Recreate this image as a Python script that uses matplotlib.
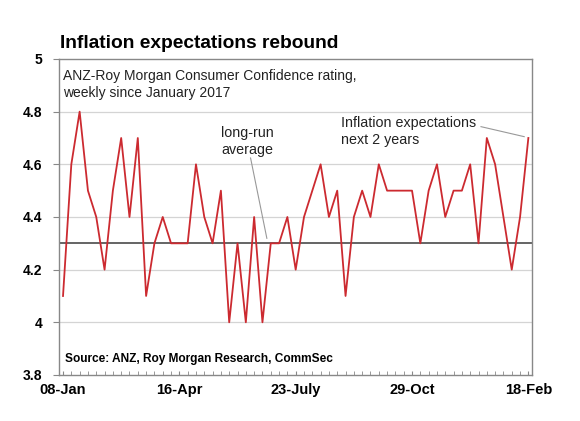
import matplotlib
matplotlib.use("Agg")
import matplotlib.pyplot as plt
import numpy as np

plt.rcParams['font.family'] = ['Liberation Sans', 'DejaVu Sans']

# weekly readings, 08-Jan-2017 .. 18-Feb-2018
inflation_exp = [4.1, 4.6, 4.8, 4.5, 4.4, 4.2, 4.5, 4.7, 4.4, 4.7,
                 4.1, 4.3, 4.4, 4.3, 4.3, 4.3, 4.6, 4.4, 4.3, 4.5,
                 4.0, 4.3, 4.0, 4.4, 4.0, 4.3, 4.3, 4.4, 4.2, 4.4,
                 4.5, 4.6, 4.4, 4.5, 4.1, 4.4, 4.5, 4.4, 4.6, 4.5,
                 4.5, 4.5, 4.5, 4.3, 4.5, 4.6, 4.4, 4.5, 4.5, 4.6,
                 4.3, 4.7, 4.6, 4.4, 4.2, 4.4, 4.7]
long_run_avg = 4.3
tick_pos = [0, 14, 28, 42, 56]
tick_labels = ['08-Jan', '16-Apr', '23-July', '29-Oct', '18-Feb']
y_ticks = [3.8, 4.0, 4.2, 4.4, 4.6, 4.8, 5.0]
y_labels = ['3.8', '4', '4.2', '4.4', '4.6', '4.8', '5']

x = np.arange(len(inflation_exp))

fig = plt.figure(figsize=(5.8, 4.21), dpi=100)
ax = fig.add_axes([0.1022, 0.1093, 0.8145, 0.7506])

# grid lines
for v in y_ticks[1:-1]:
    ax.axhline(v, color='#d4d4d4', lw=0.9, zorder=1)
ax.axhline(long_run_avg, color='#3a3a3a', lw=1.1, zorder=2)

ax.plot(x, inflation_exp, color='#cc2a30', lw=1.3, zorder=3)

ax.set_xlim(-0.45, len(inflation_exp) - 0.6)
ax.set_ylim(3.8, 5.0)

ax.set_yticks(y_ticks)
ax.set_yticklabels(y_labels, fontsize=10, fontweight='bold')
ax.set_xticks(tick_pos)
ax.set_xticklabels(tick_labels, fontsize=10.5, fontweight='bold')
ax.set_xticks(x, minor=True)
ax.tick_params(axis='x', which='both', direction='in', length=3, color='#888888', pad=6)
ax.tick_params(axis='y', direction='out', length=4, color='#888888', pad=8)

for s in ax.spines.values():
    s.set_color('#888888')
    s.set_linewidth(1.0)

# texts
fig.text(0.103, 0.897, 'Inflation expectations rebound', fontsize=13.8,
         fontweight='bold', va='center', ha='left')
ax.text(0.04, 4.903, 'ANZ-Roy Morgan Consumer Confidence rating,\nweekly since January 2017',
        fontsize=10.0, va='center', ha='left', linespacing=1.35, color='#222222')
ax.text(0.25, 3.862, 'Source: ANZ, Roy Morgan Research, CommSec', fontsize=8.6,
        fontweight='bold', va='center', ha='left')

ax.text(19.0, 4.688, 'long-run\naverage', fontsize=10.3, va='center', ha='left',
        linespacing=1.25, color='#222222')
ax.plot([22.57, 24.53], [4.624, 4.319], color='#999999', lw=0.8, zorder=4)

ax.text(33.5, 4.724, 'Inflation expectations\nnext 2 years', fontsize=10.3,
        va='center', ha='left', linespacing=1.25, color='#222222')
ax.plot([50.3, 55.5], [4.743, 4.705], color='#999999', lw=0.8, zorder=4)

fig.savefig('out.png', dpi=100)
